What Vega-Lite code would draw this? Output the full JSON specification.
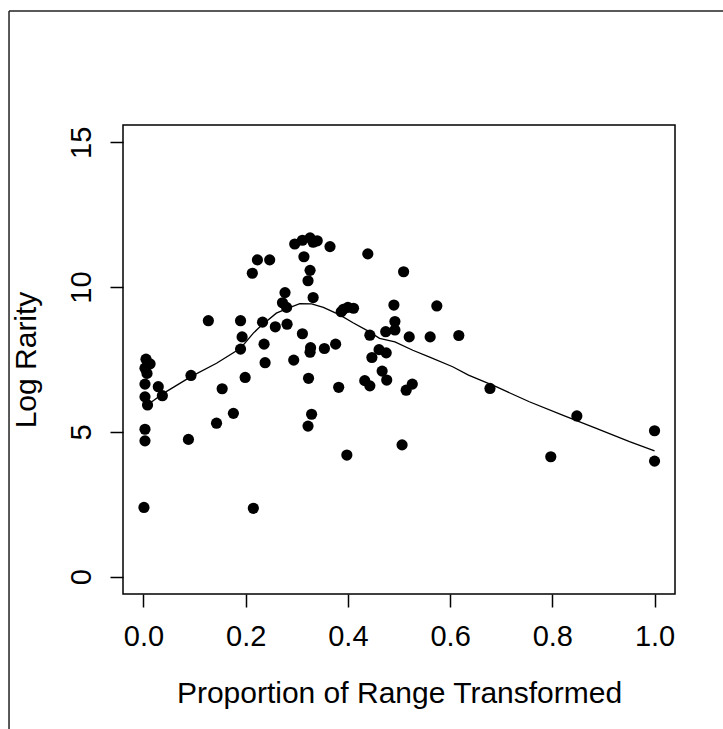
{
  "$schema": "https://vega.github.io/schema/vega-lite/v6.json",
  "width": 552,
  "height": 469,
  "autosize": {"type": "none"},
  "padding": {"left": 123, "top": 125, "right": 48, "bottom": 135},
  "background": "white",
  "config": {
    "font": "Liberation Sans",
    "view": {"stroke": "black", "strokeWidth": 1.5},
    "axis": {"grid": false, "domain": false}
  },
  "datasets": {
    "pts": [
      {"x": 0.005, "y": 7.51}, {"x": 0.013, "y": 7.35}, {"x": 0.003, "y": 7.20}, {"x": 0.007, "y": 7.02},
      {"x": 0.003, "y": 6.65}, {"x": 0.003, "y": 6.21}, {"x": 0.008, "y": 5.93}, {"x": 0.003, "y": 5.09},
      {"x": 0.003, "y": 4.69}, {"x": 0.001, "y": 2.39}, {"x": 0.029, "y": 6.56}, {"x": 0.037, "y": 6.25},
      {"x": 0.088, "y": 4.74}, {"x": 0.093, "y": 6.95}, {"x": 0.127, "y": 8.84}, {"x": 0.143, "y": 5.30},
      {"x": 0.154, "y": 6.49}, {"x": 0.176, "y": 5.64}, {"x": 0.199, "y": 6.88}, {"x": 0.190, "y": 8.84},
      {"x": 0.193, "y": 8.28}, {"x": 0.190, "y": 7.86}, {"x": 0.213, "y": 10.48}, {"x": 0.223, "y": 10.94},
      {"x": 0.247, "y": 10.94}, {"x": 0.215, "y": 2.36}, {"x": 0.233, "y": 8.79}, {"x": 0.236, "y": 8.03},
      {"x": 0.238, "y": 7.39}, {"x": 0.258, "y": 8.63}, {"x": 0.281, "y": 8.72}, {"x": 0.277, "y": 9.81},
      {"x": 0.272, "y": 9.46}, {"x": 0.280, "y": 9.30}, {"x": 0.294, "y": 7.48}, {"x": 0.311, "y": 8.39},
      {"x": 0.323, "y": 6.85}, {"x": 0.329, "y": 5.61}, {"x": 0.322, "y": 5.20}, {"x": 0.327, "y": 7.91},
      {"x": 0.326, "y": 7.75}, {"x": 0.332, "y": 9.64}, {"x": 0.314, "y": 11.05}, {"x": 0.326, "y": 10.58},
      {"x": 0.322, "y": 10.22}, {"x": 0.296, "y": 11.49}, {"x": 0.311, "y": 11.62}, {"x": 0.326, "y": 11.70},
      {"x": 0.340, "y": 11.60}, {"x": 0.332, "y": 11.55}, {"x": 0.365, "y": 11.40}, {"x": 0.439, "y": 11.15},
      {"x": 0.509, "y": 10.53}, {"x": 0.387, "y": 9.15}, {"x": 0.391, "y": 9.23}, {"x": 0.400, "y": 9.30},
      {"x": 0.411, "y": 9.27}, {"x": 0.490, "y": 9.38}, {"x": 0.574, "y": 9.35}, {"x": 0.492, "y": 8.81},
      {"x": 0.474, "y": 8.46}, {"x": 0.492, "y": 8.52}, {"x": 0.443, "y": 8.34}, {"x": 0.520, "y": 8.28},
      {"x": 0.561, "y": 8.28}, {"x": 0.617, "y": 8.33}, {"x": 0.354, "y": 7.88}, {"x": 0.376, "y": 8.03},
      {"x": 0.461, "y": 7.84}, {"x": 0.475, "y": 7.73}, {"x": 0.447, "y": 7.57}, {"x": 0.382, "y": 6.54},
      {"x": 0.433, "y": 6.77}, {"x": 0.443, "y": 6.59}, {"x": 0.467, "y": 7.10}, {"x": 0.476, "y": 6.79},
      {"x": 0.514, "y": 6.44}, {"x": 0.526, "y": 6.65}, {"x": 0.398, "y": 4.20}, {"x": 0.506, "y": 4.55},
      {"x": 0.678, "y": 6.50}, {"x": 0.848, "y": 5.55}, {"x": 0.797, "y": 4.14}, {"x": 1.0, "y": 5.04},
      {"x": 1.0, "y": 3.99}
    ],
    "smooth": [
      {"x": 0.001, "y": 5.92}, {"x": 0.013, "y": 6.00}, {"x": 0.039, "y": 6.33}, {"x": 0.093, "y": 6.91},
      {"x": 0.143, "y": 7.37}, {"x": 0.190, "y": 7.89}, {"x": 0.215, "y": 8.41}, {"x": 0.228, "y": 8.63},
      {"x": 0.260, "y": 9.10}, {"x": 0.287, "y": 9.30}, {"x": 0.306, "y": 9.43}, {"x": 0.329, "y": 9.42},
      {"x": 0.352, "y": 9.30}, {"x": 0.384, "y": 9.04}, {"x": 0.410, "y": 8.77}, {"x": 0.439, "y": 8.49},
      {"x": 0.462, "y": 8.23}, {"x": 0.492, "y": 8.11}, {"x": 0.527, "y": 7.82}, {"x": 0.560, "y": 7.58},
      {"x": 0.605, "y": 7.25}, {"x": 0.636, "y": 6.96}, {"x": 0.690, "y": 6.56}, {"x": 0.755, "y": 6.04},
      {"x": 0.820, "y": 5.58}, {"x": 0.886, "y": 5.12}, {"x": 0.951, "y": 4.66}, {"x": 1.0, "y": 4.34}
    ]
  },
  "layer": [
    {
      "data": {"name": "pts"},
      "mark": {"type": "circle", "size": 125, "color": "black", "opacity": 1},
      "encoding": {
        "x": {
          "field": "x", "type": "quantitative",
          "scale": {"domain": [-0.04, 1.04], "nice": false, "zero": false},
          "axis": {
            "title": "Proportion of Range Transformed",
            "values": [0, 0.2, 0.4, 0.6, 0.8, 1.0],
            "format": ".1f",
            "tickSize": 13, "tickWidth": 1.5, "tickColor": "black",
            "labelFontSize": 29, "labelColor": "black", "labelBaseline": "alphabetic",
            "labelPadding": 38, "labelFlush": false, "labelOverlap": false,
            "titleFontSize": 30, "titleFontWeight": "normal", "titleColor": "black",
            "titleBaseline": "alphabetic", "titleY": 108
          }
        },
        "y": {
          "field": "y", "type": "quantitative",
          "scale": {"domain": [-0.6, 15.6], "nice": false, "zero": false},
          "axis": {
            "title": "Log Rarity",
            "values": [0, 5, 10, 15],
            "format": "d",
            "tickSize": 13, "tickWidth": 1.5, "tickColor": "black",
            "labelFontSize": 29, "labelColor": "black", "labelAngle": -90,
            "labelAlign": "center", "labelBaseline": "alphabetic",
            "labelPadding": 20, "labelFlush": false, "labelOverlap": false,
            "titleFontSize": 30, "titleFontWeight": "normal", "titleColor": "black",
            "titleAngle": -90, "titleAlign": "center", "titleBaseline": "alphabetic",
            "titleX": -88, "titleY": 234.5
          }
        }
      }
    },
    {
      "data": {"name": "smooth"},
      "mark": {"type": "line", "color": "black", "strokeWidth": 1.3},
      "encoding": {
        "x": {"field": "x", "type": "quantitative", "scale": {"domain": [-0.04, 1.04], "nice": false, "zero": false}, "title": "Proportion of Range Transformed"},
        "y": {"field": "y", "type": "quantitative", "scale": {"domain": [-0.6, 15.6], "nice": false, "zero": false}, "title": "Log Rarity"}
      }
    },
    {
      "data": {"values": [{}]},
      "mark": {"type": "rule", "color": "#222", "strokeWidth": 1.5, "clip": false},
      "encoding": {
        "x": {"datum": -0.263, "type": "quantitative", "title": "Proportion of Range Transformed"},
        "y": {"datum": 19.54, "type": "quantitative", "title": "Log Rarity"},
        "y2": {"datum": -6}
      }
    },
    {
      "data": {"values": [{}]},
      "mark": {"type": "rule", "color": "#222", "strokeWidth": 1.5, "clip": false},
      "encoding": {
        "x": {"datum": -0.263, "type": "quantitative", "title": "Proportion of Range Transformed"},
        "x2": {"datum": 1.2},
        "y": {"datum": 19.54, "type": "quantitative", "title": "Log Rarity"}
      }
    }
  ]
}
